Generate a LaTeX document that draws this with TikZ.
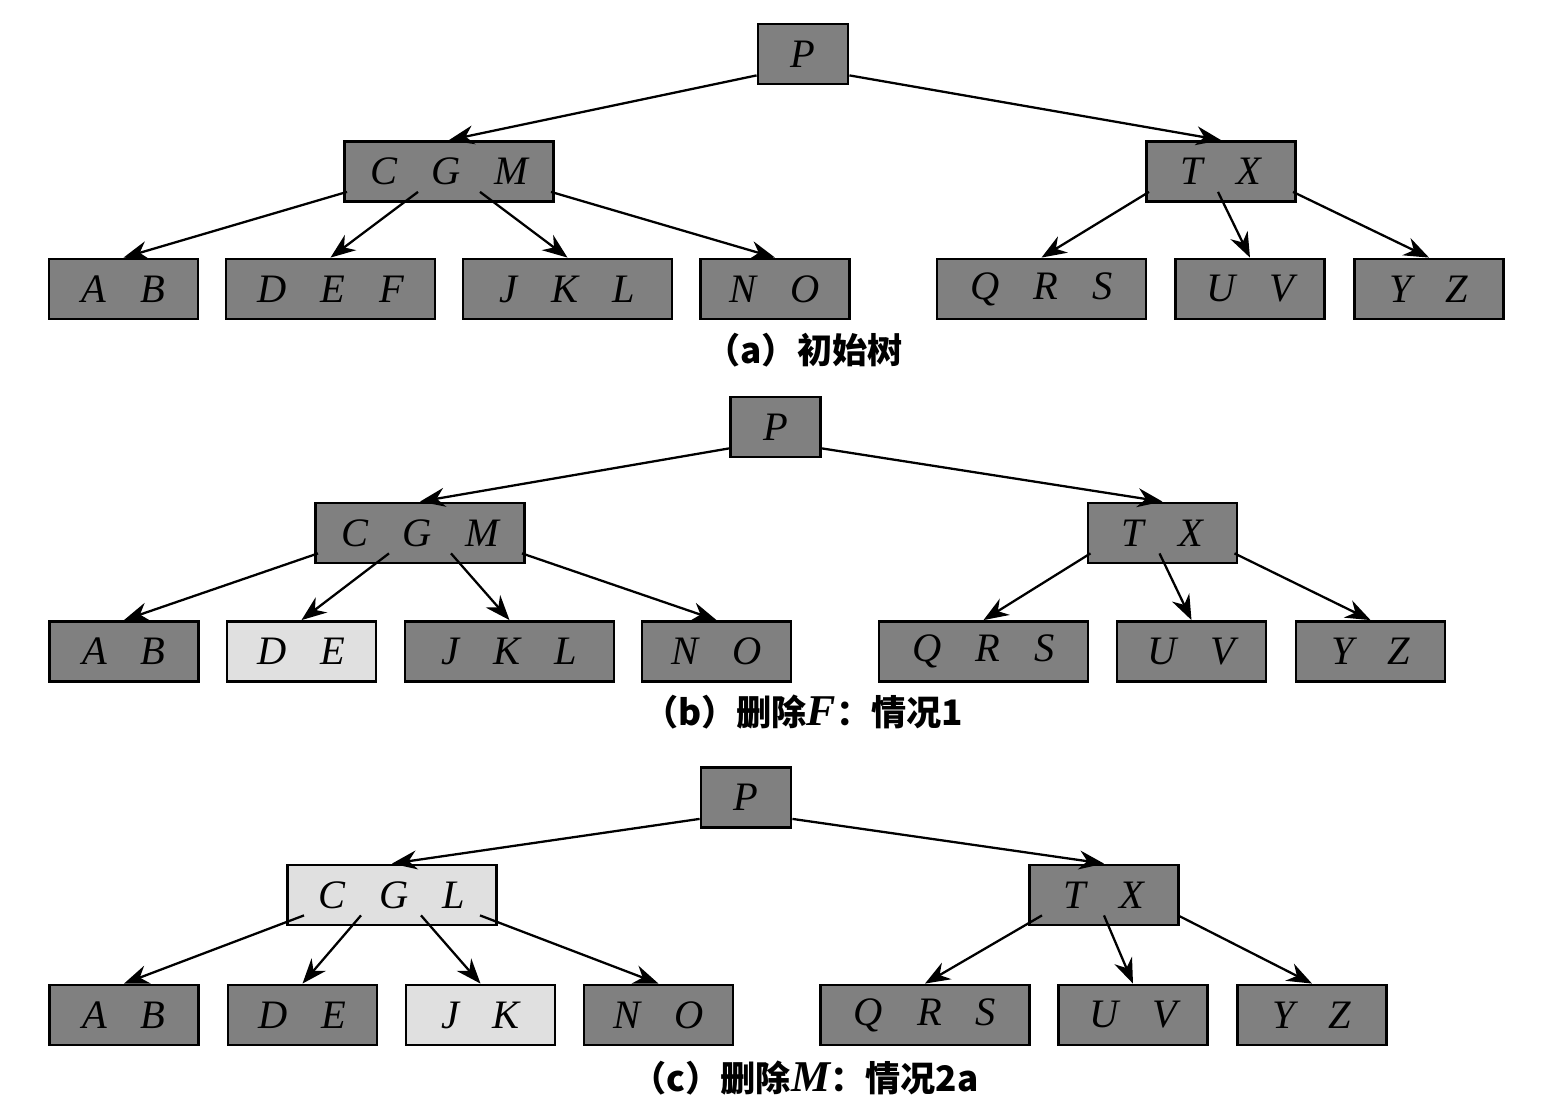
\documentclass[tikz,border=0pt]{standalone}
\usepackage{fontspec}
\setmainfont{Liberation Serif}
\newfontfamily\cjk{Noto Sans CJK SC}
\usetikzlibrary{arrows.meta}

\newcommand{\kk}{\hspace{3.4mm}}
\newcommand{\capletter}[1]{{\fontspec{Liberation Serif}\fontsize{12.5}{12}\selectfont\bfseries\itshape #1}}

\begin{document}
\begin{tikzpicture}[>={Stealth[length=2.5mm,width=1.9mm]},
  box/.style={draw, line width=0.8pt, minimum height=0.6cm, inner sep=0pt,
    font=\fontsize{11.5}{13}\selectfont\itshape},
  dark/.style={box, fill=black!50},
  light/.style={box, fill=black!12},
  w1/.style={minimum width=0.90cm},
  w2/.style={minimum width=1.49cm},
  w3/.style={minimum width=2.09cm},
  link/.style={->, line width=0.65pt},
  caption/.style={font=\cjk\bfseries\fontsize{10}{12}\selectfont}]
  \useasboundingbox (0,0) rectangle (15.46,-11.09);

  % (a) arbre initial
  \node[dark,w1] (aP) at (8.03,-0.54) {P};
  \node[dark,w3] (aCGM) at (4.49,-1.715) {C\kk G\kk M};
  \node[dark,w2] (aTX) at (12.21,-1.715) {T\kk X};
  \node[dark,w2] (aAB) at (1.235,-2.89) {A\kk B};
  \node[dark,w3] (aDEF) at (3.305,-2.89) {D\kk E\kk F};
  \node[dark,w3] (aJKL) at (5.675,-2.89) {J\kk K\kk L};
  \node[dark,w2] (aNO) at (7.75,-2.89) {N\kk O};
  \node[dark,w3] (aQRS) at (10.415,-2.89) {Q\kk R\kk S};
  \node[dark,w2] (aUV) at (12.50,-2.89) {U\kk V};
  \node[dark,w2] (aYZ) at (14.29,-2.89) {Y\kk Z};

  \draw[link] ([yshift=1mm]aP.south west) -- (aCGM.north);
  \draw[link] ([yshift=1mm]aP.south east) -- (aTX.north);
  \draw[link] ([xshift=-1.02cm,yshift=1.1mm]aCGM.south) -- (aAB.north);
  \draw[link] ([xshift=-0.31cm,yshift=1.1mm]aCGM.south) -- (aDEF.north);
  \draw[link] ([xshift=0.31cm,yshift=1.1mm]aCGM.south) -- (aJKL.north);
  \draw[link] ([xshift=1.02cm,yshift=1.1mm]aCGM.south) -- (aNO.north);
  \draw[link] ([xshift=-0.72cm,yshift=1.1mm]aTX.south) -- (aQRS.north);
  \draw[link] ([xshift=-0.03cm,yshift=1.1mm]aTX.south) -- (aUV.north);
  \draw[link] ([xshift=0.72cm,yshift=1.1mm]aTX.south) -- (aYZ.north);

  \node[caption] (capa) at (8.04,-3.50) {（a）初始树};

  % (b) suppression de F
  \node[dark,w1] (bP) at (7.755,-4.27) {P};
  \node[dark,w3] (bCGM) at (4.20,-5.33) {C\kk G\kk M};
  \node[dark,w2] (bTX) at (11.625,-5.33) {T\kk X};
  \node[dark,w2] (bAB) at (1.24,-6.515) {A\kk B};
  \node[light,w2] (bDE) at (3.015,-6.515) {D\kk E};
  \node[dark,w3] (bJKL) at (5.095,-6.515) {J\kk K\kk L};
  \node[dark,w2] (bNO) at (7.165,-6.515) {N\kk O};
  \node[dark,w3] (bQRS) at (9.835,-6.515) {Q\kk R\kk S};
  \node[dark,w2] (bUV) at (11.915,-6.515) {U\kk V};
  \node[dark,w2] (bYZ) at (13.705,-6.515) {Y\kk Z};

  \draw[link] ([yshift=1mm]bP.south west) -- (bCGM.north);
  \draw[link] ([yshift=1mm]bP.south east) -- (bTX.north);
  \draw[link] ([xshift=-1.02cm,yshift=1.1mm]bCGM.south) -- (bAB.north);
  \draw[link] ([xshift=-0.31cm,yshift=1.1mm]bCGM.south) -- (bDE.north);
  \draw[link] ([xshift=0.31cm,yshift=1.1mm]bCGM.south) -- (bJKL.north);
  \draw[link] ([xshift=1.02cm,yshift=1.1mm]bCGM.south) -- (bNO.north);
  \draw[link] ([xshift=-0.72cm,yshift=1.1mm]bTX.south) -- (bQRS.north);
  \draw[link] ([xshift=-0.03cm,yshift=1.1mm]bTX.south) -- (bUV.north);
  \draw[link] ([xshift=0.72cm,yshift=1.1mm]bTX.south) -- (bYZ.north);

  \node[caption] (capb) at (8.03,-7.12) {（b）删除\capletter{F}：情况1};

  % (c) suppression de M
  \node[dark,w1] (cP) at (7.46,-7.975) {P};
  \node[light,w3] (cCGL) at (3.92,-8.95) {C\kk G\kk L};
  \node[dark,w2] (cTX) at (11.04,-8.95) {T\kk X};
  \node[dark,w2] (cAB) at (1.24,-10.15) {A\kk B};
  \node[dark,w2] (cDE) at (3.025,-10.15) {D\kk E};
  \node[light,w2] (cJK) at (4.805,-10.15) {J\kk K};
  \node[dark,w2] (cNO) at (6.585,-10.15) {N\kk O};
  \node[dark,w3] (cQRS) at (9.25,-10.15) {Q\kk R\kk S};
  \node[dark,w2] (cUV) at (11.33,-10.15) {U\kk V};
  \node[dark,w2] (cYZ) at (13.12,-10.15) {Y\kk Z};

  \draw[link] ([yshift=1mm]cP.south west) -- (cCGL.north);
  \draw[link] ([yshift=1mm]cP.south east) -- (cTX.north);
  \draw[link] ([xshift=-0.88cm,yshift=1.1mm]cCGL.south) -- (cAB.north);
  \draw[link] ([xshift=-0.31cm,yshift=1.1mm]cCGL.south) -- (cDE.north);
  \draw[link] ([xshift=0.29cm,yshift=1.1mm]cCGL.south) -- (cJK.north);
  \draw[link] ([xshift=0.88cm,yshift=1.1mm]cCGL.south) -- (cNO.north);
  \draw[link] ([xshift=-0.62cm,yshift=1.1mm]cTX.south) -- (cQRS.north);
  \draw[link] ([xshift=0cm,yshift=1.1mm]cTX.south) -- (cUV.north);
  \draw[link] ([xshift=0.74cm,yshift=1.1mm]cTX.south) -- (cYZ.north);

  \node[caption] (capc) at (8.05,-10.78) {（c）删除\capletter{M}：情况2a};
\end{tikzpicture}
\end{document}
